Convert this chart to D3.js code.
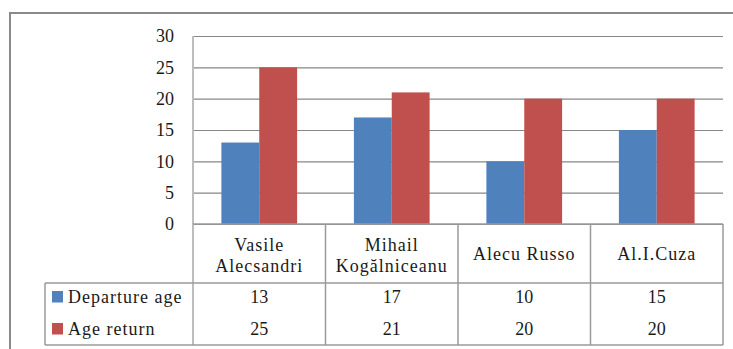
<!DOCTYPE html>
<html><head><meta charset="utf-8">
<script src="https://cdn.jsdelivr.net/npm/d3@7/dist/d3.min.js"></script>
</head><body style="margin:0;background:#fff">
<svg id="c" width="733" height="349" style="display:block"></svg>
<script>
const categories = ["Vasile\nAlecsandri", "Mihail\nKogălniceanu", "Alecu Russo", "Al.I.Cuza"];
const seriesNames = ["Departure age", "Age return"];
const departureAge = [13, 17, 10, 15];
const ageReturn = [25, 21, 20, 20];
const yTicks = [0, 5, 10, 15, 20, 25, 30];
const colors = ["#4F81BD", "#C0504D"];

const values = [departureAge, ageReturn];
const svg = d3.select("#c");
const fs = 18;
const ff = "Times New Roman";
const txt = (g) => g.append("text").attr("font-family", ff).style("font-family", "'Times New Roman', Tinos, 'Liberation Serif'").attr("font-size", fs).attr("fill", "#1a1a1a");
// outer border
svg.append("rect").attr("x", 10).attr("y", 13).attr("width", 740).attr("height", 350)
  .attr("fill", "none").attr("stroke", "#8a8a8a").attr("stroke-width", 2);

const pLeft = 193, pRight = 723, pTop = 36, zeroY = 224, rowDiv = 283, pBottom = 345, legLeft = 45;
const x0 = d3.scaleBand().domain(categories).range([pLeft, pRight]);
const x1 = d3.scaleBand().domain(seriesNames).range([0, x0.bandwidth()]).paddingOuter(0.75);
const y = d3.scaleLinear().domain([0, 30]).range([zeroY, pTop]);

// gridlines
const yAxis = d3.axisLeft(y).tickValues(yTicks).tickSize(-(pRight - pLeft)).tickPadding(19);
const ga = svg.append("g").attr("transform", `translate(${pLeft},0)`).call(yAxis)
  .attr("font-family", ff).attr("font-size", fs);
ga.select(".domain").remove();
ga.selectAll(".tick line").attr("stroke", "#878787").attr("stroke-width", 1.2);
ga.selectAll(".tick text").attr("font-size", fs).attr("font-family", ff)
  .style("font-family", "'Times New Roman', Tinos, 'Liberation Serif'").attr("fill", "#1a1a1a")
  .attr("dy", "0.32em");

// bars
seriesNames.forEach((s, si) => {
  svg.append("g").selectAll("rect").data(categories).join("rect")
    .attr("x", c => x0(c) + x1(s))
    .attr("y", (c, i) => y(values[si][i]))
    .attr("width", x1.bandwidth())
    .attr("height", (c, i) => y(0) - y(values[si][i]))
    .attr("fill", colors[si]);
});

// table lines
const lc = "#9a9a9a", lw = 1.5;
const line = (ax, ay, bx, by, c = lc, w = lw) => svg.append("line").attr("x1", ax).attr("y1", ay).attr("x2", bx).attr("y2", by).attr("stroke", c).attr("stroke-width", w);
line(pLeft, pTop, pLeft, pBottom, "#bdbdbd", 2);
line(pLeft, zeroY, pRight, zeroY);
line(legLeft, rowDiv, pRight, rowDiv);
line(legLeft, pBottom, pRight, pBottom);
line(legLeft, rowDiv, legLeft, pBottom);
categories.forEach((c, i) => { if (i > 0) line(x0(c), zeroY, x0(c), pBottom); });
line(pRight, zeroY, pRight, pBottom);

// header labels
categories.forEach(c => {
  const lines = c.split("\n");
  const cx = x0(c) + x0.bandwidth() / 2;
  const midY = (zeroY + rowDiv) / 2 + 6.5 + (lines.length > 1 ? 1.5 : 0);
  lines.forEach((t, k) => {
    txt(svg).attr("x", cx).attr("y", midY + (k - (lines.length - 1) / 2) * 21)
      .attr("text-anchor", "middle").attr("letter-spacing", 1).text(t);
  });
});

// rows
const rowY = [303, 335];
seriesNames.forEach((s, si) => {
  svg.append("rect").attr("x", 52).attr("y", rowY[si] - 12).attr("width", 11).attr("height", 11.5).attr("fill", colors[si]);
  txt(svg).attr("x", 68).attr("y", rowY[si]).attr("letter-spacing", 1).text(s);
  categories.forEach((c, i) => {
    txt(svg).attr("x", x0(c) + x0.bandwidth() / 2).attr("y", rowY[si])
      .attr("text-anchor", "middle").text(values[si][i]);
  });
});
</script></body></html>
